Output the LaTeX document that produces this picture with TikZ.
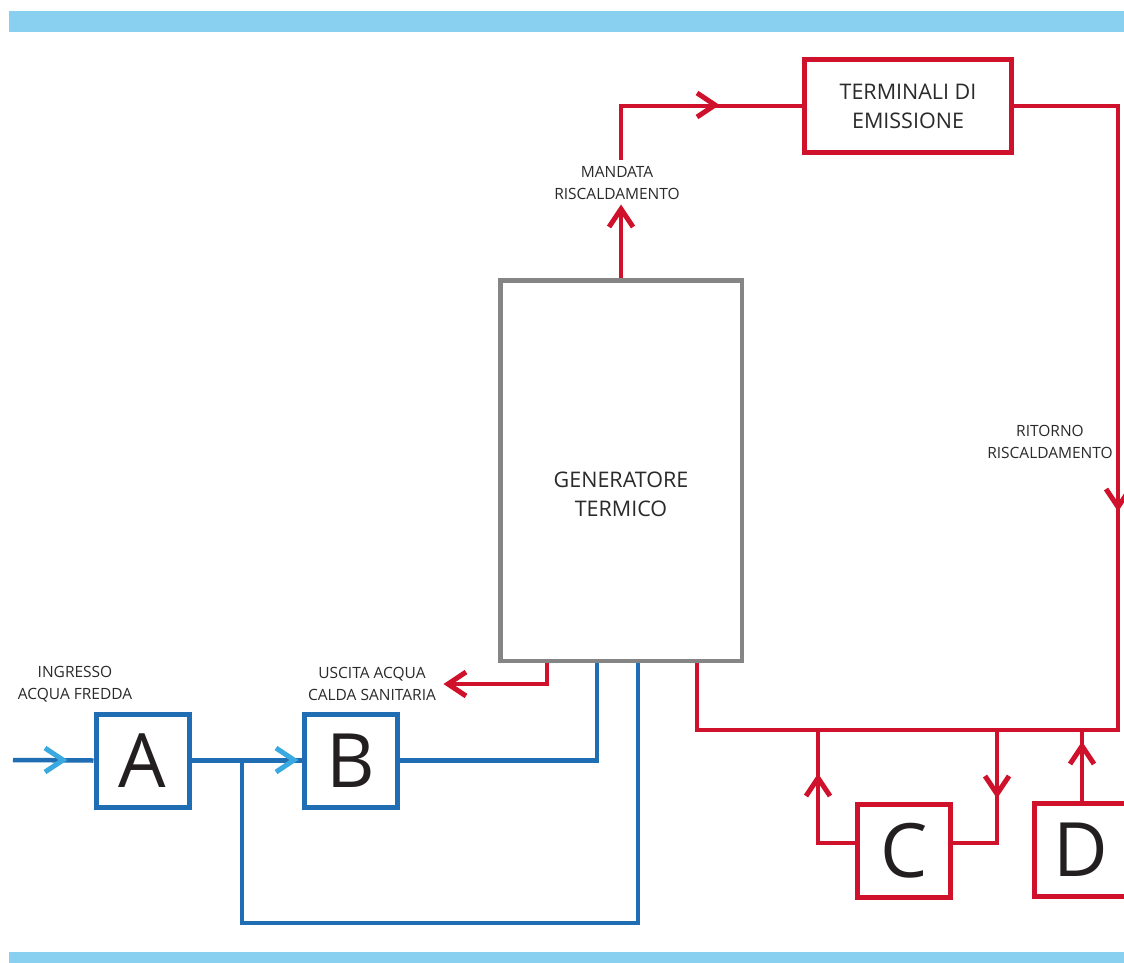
\documentclass[tikz,border=0pt]{standalone}
\usepackage{fontspec}
\setmainfont{Open Sans}
\definecolor{cred}{HTML}{D0112B}
\definecolor{cblue}{HTML}{1F6EB3}
\definecolor{clblue}{HTML}{3AA9E0}
\definecolor{cbar}{HTML}{89CFEF}
\definecolor{cgray}{HTML}{858585}
\definecolor{ctext}{HTML}{2A2A2A}
\definecolor{cletter}{HTML}{231F20}
\begin{document}
\begin{tikzpicture}[x=1pt,y=-1pt,
  chevshape/.style={line width=5pt, line join=miter, line cap=butt},
  redchev/.style={chevshape, draw=cred},
  lbchev/.style={chevshape, draw=clblue},
  pipe/.style={line width=4.5pt},
  redpipe/.style={pipe, draw=cred},
  bluepipe/.style={pipe, draw=cblue},
  box/.style={draw, line width=5pt, fill=white, inner sep=0pt, text=cletter},
  letterbox/.style={box, minimum width=93pt, minimum height=93pt, font=\fontsize{75}{80}\selectfont},
  redbox/.style={box, draw=cred},
  bluebox/.style={box, draw=cblue},
  lbl/.style={align=center, text=ctext, font=\fontsize{15.5}{22}\selectfont, inner sep=0pt},
  bigtxt/.style={align=center, text=ctext, font=\fontsize{21.5}{29}\selectfont, inner sep=0pt},
]
\clip (0,0) rectangle (1124,963);
\fill[white] (0,0) rectangle (1124,963);
% bars
\fill[cbar] (9,11) rectangle (1124,32);
\fill[cbar] (9,952) rectangle (1124,963);

% nodes
\node[box, draw=cgray, line width=4.5pt, minimum width=241.5pt, minimum height=380.5pt] (gen) at (621,470.5) {};
\node[bigtxt] (gentxt) at (621,494) {GENERATORE\\TERMICO};
\node[redbox, bigtxt, minimum width=207pt, minimum height=93pt] (term) at (908,106) {TERMINALI DI\\EMISSIONE};
\node[bluebox, letterbox] (A) at (142.5,760.5) {A};
\node[bluebox, letterbox, minimum width=93pt] (B) at (351,760.5) {B};
\node[redbox, letterbox] (C) at (904,851) {C};
\node[redbox, letterbox] (D) at (1081,850) {D};

\node[lbl] (lin) at (75,684) {INGRESSO\\ACQUA FREDDA};
\node[lbl] (lout) at (372,684) {USCITA ACQUA\\CALDA SANITARIA};
\node[lbl] (lmand) at (617,183) {MANDATA\\RISCALDAMENTO};
\node[lbl] (lrit) at (1050,442) {RITORNO\\RISCALDAMENTO};

% coordinates
\coordinate (in) at (13,760);
\coordinate (j) at (242,760);
\coordinate (x597) at (597,0);
\coordinate (bypass) at (638,923);
\coordinate (x547) at (547,0);
\coordinate (dhw) at (448,684);
\coordinate (mtip) at (621,209);
\coordinate (mtop) at (621,160);
\coordinate (ret) at (1118,730);
\coordinate (x697) at (697,0);
\coordinate (yc) at (0,843);
\coordinate (cl) at (818,730);
\coordinate (cr) at (997,730);
\coordinate (dtop) at (1082,730);
% chevron tips
\coordinate (t1) at (63,760);
\coordinate (t2) at (294,760);
\coordinate (t3) at (715,105);
\coordinate (t4) at (1118,507);
\coordinate (t5) at (818,778);
\coordinate (t6) at (997,794);
\coordinate (t7) at (1082,746);

% blue circuit
\draw[bluepipe] (in) -- (A.west);
\draw[bluepipe] (A.east) -- (B.west);
\draw[bluepipe] (B.east) -| (gen.south -| x597);
\draw[bluepipe] (j) |- (bypass) -- (gen.south -| bypass);

% red circuit
\draw[redpipe] (gen.south -| x547) |- (dhw);
\draw[redpipe] (gen.north) -- (mtip);
\draw[redpipe] (mtop) |- (term.west);
\draw[redpipe] (term.east) -| (ret) -| (gen.south -| x697);
\draw[redpipe] (C.west |- yc) -| (cl);
\draw[redpipe] (cr) |- (C.east |- yc);
\draw[redpipe] (D.north -| dtop) -- (dtop);

% chevrons
\draw[lbchev] (t1) ++(-18,-12) -- (t1) -- ++(-18,12);
\draw[lbchev] (t2) ++(-18,-12) -- (t2) -- ++(-18,12);
\draw[redchev] (dhw) ++(18,-12) -- (dhw) -- ++(18,12);
\draw[redchev] (mtip) ++(-12,18) -- (mtip) -- ++(12,18);
\draw[redchev] (t3) ++(-18,-12) -- (t3) -- ++(-18,12);
\draw[redchev] (t4) ++(-12,-18) -- (t4) -- ++(12,-18);
\draw[redchev] (t5) ++(-12,18) -- (t5) -- ++(12,18);
\draw[redchev] (t6) ++(-12,-18) -- (t6) -- ++(12,-18);
\draw[redchev] (t7) ++(-12,18) -- (t7) -- ++(12,18);
\end{tikzpicture}
\end{document}
